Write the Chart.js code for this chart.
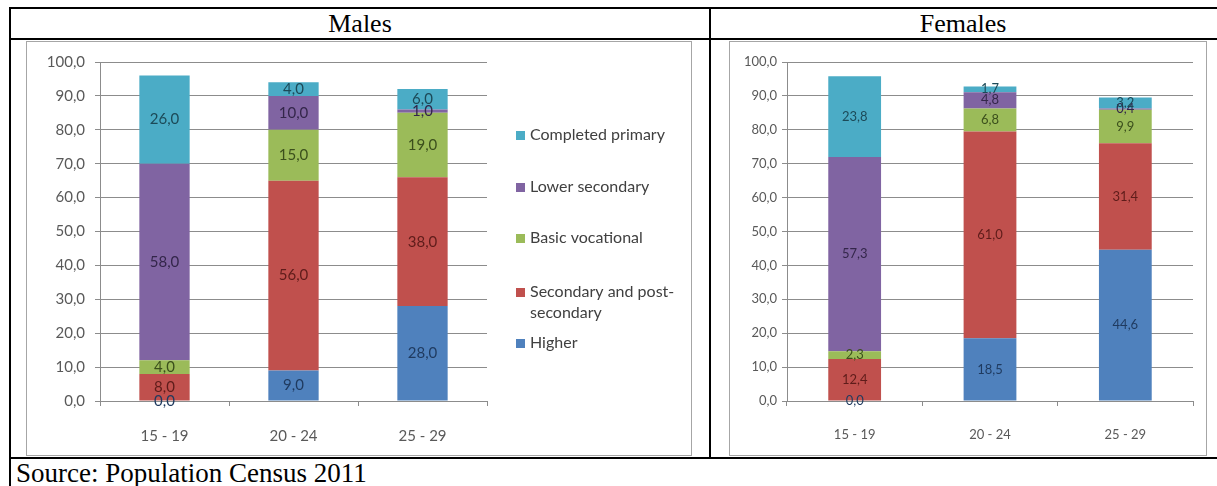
<!DOCTYPE html>
<html>
<head>
<meta charset="utf-8">
<script src="https://cdn.jsdelivr.net/npm/chart.js@4.4.0/dist/chart.umd.min.js"></script>
<style>
  body { margin: 0; background: #fff; width: 1217px; height: 486px; overflow: hidden; position: relative;
         font-family: "Liberation Serif", "Times New Roman", serif; }
  .rule { position: absolute; background: #000; }
  .head { position: absolute; top: 9px; height: 29px; line-height: 29px; font-size: 26px; text-align: center; }
  .box { position: absolute; top: 41px; border: 1px solid #a6a6a6; }
  .box canvas { display: block; }
  #source { position: absolute; left: 16px; top: 458px; font-size: 27px; line-height: 30px; }
</style>
</head>
<body>
<!-- table rules -->
<div class="rule" style="left:9px;top:7px;width:1208px;height:2px"></div>
<div class="rule" style="left:9px;top:38px;width:1208px;height:2px"></div>
<div class="rule" style="left:9px;top:457px;width:1208px;height:2px"></div>
<div class="rule" style="left:9px;top:7px;width:2px;height:479px"></div>
<div class="rule" style="left:709px;top:7px;width:2px;height:452px"></div>

<div class="head" style="left:11px;width:698px">Males</div>
<div class="head" style="left:711px;width:504px">Females</div>

<div class="box" style="left:26px"><canvas id="malesChart" width="664" height="413"></canvas></div>
<div class="box" style="left:729px"><canvas id="femalesChart" width="476" height="413"></canvas></div>

<div id="source">Source: Population Census 2011</div>

<script>
var ageGroups = ['15 - 19', '20 - 24', '25 - 29'];
var levels = ['Higher', 'Secondary and post-secondary', 'Basic vocational', 'Lower secondary', 'Completed primary'];

// males, % by education level
var maleHigher    = [0.0, 9.0, 28.0];
var maleSecondary = [8.0, 56.0, 38.0];
var maleBasic     = [4.0, 15.0, 19.0];
var maleLower     = [58.0, 10.0, 1.0];
var malePrimary   = [26.0, 4.0, 6.0];

// females, % by education level
var femaleHigher    = [0.0, 18.5, 44.6];
var femaleSecondary = [12.4, 61.0, 31.4];
var femaleBasic     = [2.3, 6.8, 9.9];
var femaleLower     = [57.3, 4.8, 0.4];
var femalePrimary   = [23.8, 1.7, 3.2];

var yMax = 100, yStep = 10;

var barColors   = ['#4F81BD', '#C0504D', '#9BBB59', '#8064A2', '#4BACC6'];
var valueColors = ['#1f3a5f', '#5e1c1a', '#3b4f1c', '#33264a', '#1c4a58'];

function fmt(v) {
  return v.toFixed(1).replace('.', ',');
}

// numbers in the middle of each stacked segment
var segmentValues = {
  id: 'segmentValues',
  afterDatasetsDraw: function(chart, args, opts) {
    var ctx = chart.ctx;
    ctx.save();
    ctx.font = opts.size + 'px Lato';
    ctx.textAlign = 'center';
    ctx.textBaseline = 'middle';
    chart.data.datasets.forEach(function(ds, i) {
      var meta = chart.getDatasetMeta(i);
      meta.data.forEach(function(bar, j) {
        ctx.fillStyle = valueColors[i];
        ctx.fillText(fmt(ds.data[j]), bar.x, (bar.y + bar.base) / 2);
      });
    });
    ctx.restore();
  }
};

// legend to the right of the plot, top item = top segment
var sideLegend = {
  id: 'sideLegend',
  afterDraw: function(chart, args, opts) {
    if (!opts.show) return;
    var ctx = chart.ctx;
    var rows = [93, 145, 196, 250, 301];
    ctx.save();
    ctx.font = opts.size + 'px Lato';
    ctx.textBaseline = 'middle';
    ctx.textAlign = 'left';
    var items = chart.data.datasets.slice().reverse();
    items.forEach(function(ds, k) {
      var y = rows[k];
      ctx.fillStyle = ds.backgroundColor;
      ctx.fillRect(opts.x, y - 4, 9, 9);
      // wrap long names after spaces / hyphens
      var parts = ds.label.match(/[^\s-]+[-\s]?/g);
      var lines = [], line = '';
      parts.forEach(function(p) {
        if (line && ctx.measureText((line + p).trim()).width > opts.maxWidth) {
          lines.push(line.trim());
          line = p;
        } else {
          line += p;
        }
      });
      lines.push(line.trim());
      ctx.fillStyle = '#404040';
      lines.forEach(function(t, n) {
        ctx.fillText(t, opts.x + 14, y + n * 21);
      });
    });
    ctx.restore();
  }
};

function makeChart(id, series, cfg) {
  var datasets = levels.map(function(name, i) {
    return {
      label: name,
      data: series[i],
      backgroundColor: barColors[i],
      borderWidth: 0,
      barPercentage: 0.39,
      categoryPercentage: 1.0
    };
  });

  return new Chart(document.getElementById(id), {
    type: 'bar',
    data: { labels: ageGroups, datasets: datasets },
    plugins: [segmentValues, sideLegend],
    options: {
      responsive: false,
      animation: false,
      devicePixelRatio: 1,
      layout: { padding: { top: 20, right: cfg.padRight, bottom: 0, left: 0 } },
      plugins: {
        legend: { display: false },
        tooltip: { enabled: false },
        segmentValues: { size: cfg.size },
        sideLegend: { show: cfg.legend, size: 16, x: 489, maxWidth: 155 }
      },
      scales: {
        x: {
          stacked: true,
          grid: { offset: true, drawOnChartArea: false, tickLength: 5, color: '#8c8c8c' },
          border: { color: '#8c8c8c' },
          ticks: { font: { family: 'Lato', size: cfg.size }, color: '#595959', padding: 21 },
          afterFit: function(s) { s.height = 54; }
        },
        y: {
          stacked: true,
          min: 0,
          max: yMax,
          grid: { color: '#8c8c8c', tickLength: 5 },
          border: { color: '#8c8c8c' },
          ticks: {
            stepSize: yStep,
            font: { family: 'Lato', size: cfg.size },
            color: '#595959',
            padding: cfg.tickPad,
            callback: function(v) { return fmt(v); }
          },
          afterFit: function(s) { s.width = cfg.axisWidth; }
        }
      }
    }
  });
}

makeChart('malesChart',
  [maleHigher, maleSecondary, maleBasic, maleLower, malePrimary],
  { size: 15, axisWidth: 73, padRight: 204, tickPad: 10, legend: true });

makeChart('femalesChart',
  [femaleHigher, femaleSecondary, femaleBasic, femaleLower, femalePrimary],
  { size: 13, axisWidth: 57, padRight: 13, tickPad: 5, legend: false });
</script>
</body>
</html>
